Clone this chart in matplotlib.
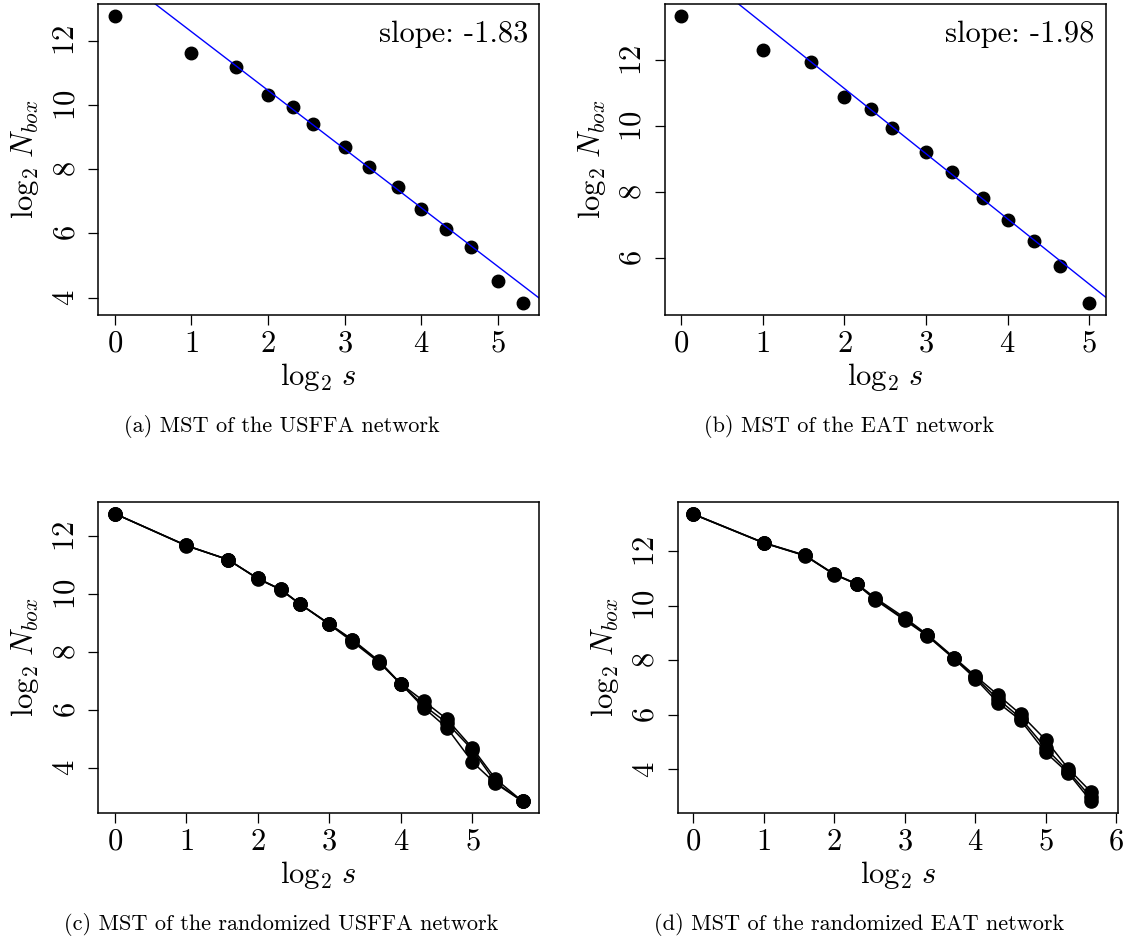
import numpy as np
import matplotlib
matplotlib.use('Agg')
import matplotlib.pyplot as plt

plt.rcParams['font.family'] = 'serif'
plt.rcParams['font.serif'] = ['cmr10']
plt.rcParams['mathtext.fontset'] = 'cm'
plt.rcParams['axes.formatter.use_mathtext'] = True
plt.rcParams['axes.unicode_minus'] = False

# box sizes s (x axis is log2 s)
sizes_usffa = [1, 2, 3, 4, 5, 6, 8, 10, 13, 16, 20, 25, 32, 40]
sizes_eat = [1, 2, 3, 4, 5, 6, 8, 10, 13, 16, 20, 25, 32]
sizes_rand_usffa = [1, 2, 3, 4, 5, 6, 8, 10, 13, 16, 20, 25, 32, 40, 52]
sizes_rand_eat = [1, 2, 3, 4, 5, 6, 8, 10, 13, 16, 20, 25, 32, 40, 50]

# log2 N_box
nbox_usffa = [12.79, 11.63, 11.20, 10.32, 9.95, 9.40, 8.69, 8.06, 7.44, 6.75,
              6.14, 5.59, 4.53, 3.82]
nbox_eat = [13.36, 12.31, 11.94, 10.89, 10.53, 9.94, 9.22, 8.60, 7.82, 7.15,
            6.50, 5.74, 4.61]

# fitted lines (slope, intercept)
fit_usffa = (-1.83, 14.12)
fit_eat = (-1.98, 15.10)

# randomized networks, several realizations
rand_usffa = [
    [12.78, 11.68, 11.19, 10.54, 10.16, 9.67, 8.97, 8.43, 7.68, 6.90, 6.30,
     5.68, 4.68, 3.62, 2.84],
    [12.78, 11.68, 11.19, 10.54, 10.16, 9.67, 8.95, 8.36, 7.63, 6.89, 6.15,
     5.55, 4.62, 3.50, 2.84],
    [12.78, 11.67, 11.19, 10.53, 10.15, 9.66, 8.97, 8.40, 7.66, 6.90, 6.07,
     5.38, 4.20, 3.46, 2.84],
]
rand_eat = [
    [13.36, 12.31, 11.85, 11.16, 10.80, 10.28, 9.56, 8.94, 8.10, 7.43, 6.73,
     6.02, 5.08, 4.02, 3.17],
    [13.36, 12.30, 11.84, 11.14, 10.79, 10.24, 9.50, 8.91, 8.07, 7.38, 6.58,
     5.88, 4.78, 3.92, 2.97],
    [13.35, 12.30, 11.83, 11.15, 10.78, 10.21, 9.47, 8.89, 8.05, 7.33, 6.45,
     5.80, 4.62, 3.86, 2.83],
]

captions = ['(a) MST of the USFFA network', '(b) MST of the EAT network',
            '(c) MST of the randomized USFFA network',
            '(d) MST of the randomized EAT network']

W, H = 1127, 941
fig = plt.figure(figsize=(W / 100, H / 100), dpi=100)


def make_axes(left, top, right, bottom):
    return fig.add_axes([left / W, 1 - bottom / H, (right - left) / W,
                         (bottom - top) / H])


def style(ax, box, xlim, ylim, xticks, yticks):
    ax.set_xlim(xlim)
    ax.set_ylim(ylim)
    ax.set_xticks(xticks)
    ax.set_yticks(yticks)
    ax.tick_params(length=7, width=0.9, labelsize=22, direction='out')
    ax.tick_params(axis='x', pad=4)
    ax.tick_params(axis='y', pad=6, labelrotation=90)
    for lab in ax.get_yticklabels():
        lab.set_va('center')
    for sp in ax.spines.values():
        sp.set_linewidth(1.1)
    left, top, right, bottom = box
    ax.set_xlabel(r'$\log_2\,s$', fontsize=22)
    ax.set_ylabel(r'$\log_2\,N_{box}$', fontsize=22)
    ax.xaxis.set_label_coords(0.5, -62 / (bottom - top))
    ax.xaxis.label.set_va('center')
    ax.yaxis.set_label_coords(-73 / (right - left), 0.5)
    ax.yaxis.label.set_va('center')


def slope_panel(ax, sizes, nbox, fit):
    x = np.log2(sizes)
    ax.plot(x, nbox, 'o', color='black', ms=9)
    ax.axline((0, fit[1]), slope=fit[0], color='blue', lw=1)
    ax.text(0.975, 0.904, 'slope: %.2f' % fit[0], transform=ax.transAxes,
            ha='right', va='center', fontsize=22)


def rand_panel(ax, sizes, series):
    x = np.log2(sizes)
    for y in series:
        ax.plot(x, y, '-o', color='black', lw=1.1, ms=9.5)


box_a = (98.3, 4, 539, 315)
box_b = (665, 4, 1105.5, 315)
box_c = (98.3, 502, 539, 813)
box_d = (677.7, 502, 1118.3, 813)

ax = make_axes(*box_a)
slope_panel(ax, sizes_usffa, nbox_usffa, fit_usffa)
style(ax, box_a, (-0.213, 5.535), (3.46, 13.15), range(6), [4, 6, 8, 10, 12])

ax = make_axes(*box_b)
slope_panel(ax, sizes_eat, nbox_eat, fit_eat)
style(ax, box_b, (-0.2, 5.2), (4.26, 13.71), range(6), [6, 8, 10, 12])

ax = make_axes(*box_c)
rand_panel(ax, sizes_rand_usffa, rand_usffa)
style(ax, box_c, (-0.228, 5.93), (2.44, 13.18), range(6), [4, 6, 8, 10, 12])

ax = make_axes(*box_d)
rand_panel(ax, sizes_rand_eat, rand_eat)
style(ax, box_d, (-0.22, 6.03), (2.40, 13.80), range(7), [4, 6, 8, 10, 12])

cap_pos = [(281.5, 427), (848.7, 427), (281, 924), (859, 924)]
for (cx, cy), text in zip(cap_pos, captions):
    fig.text(cx / W, 1 - cy / H, text, ha='center', va='center', fontsize=16)

fig.savefig('out.png', dpi=100)
